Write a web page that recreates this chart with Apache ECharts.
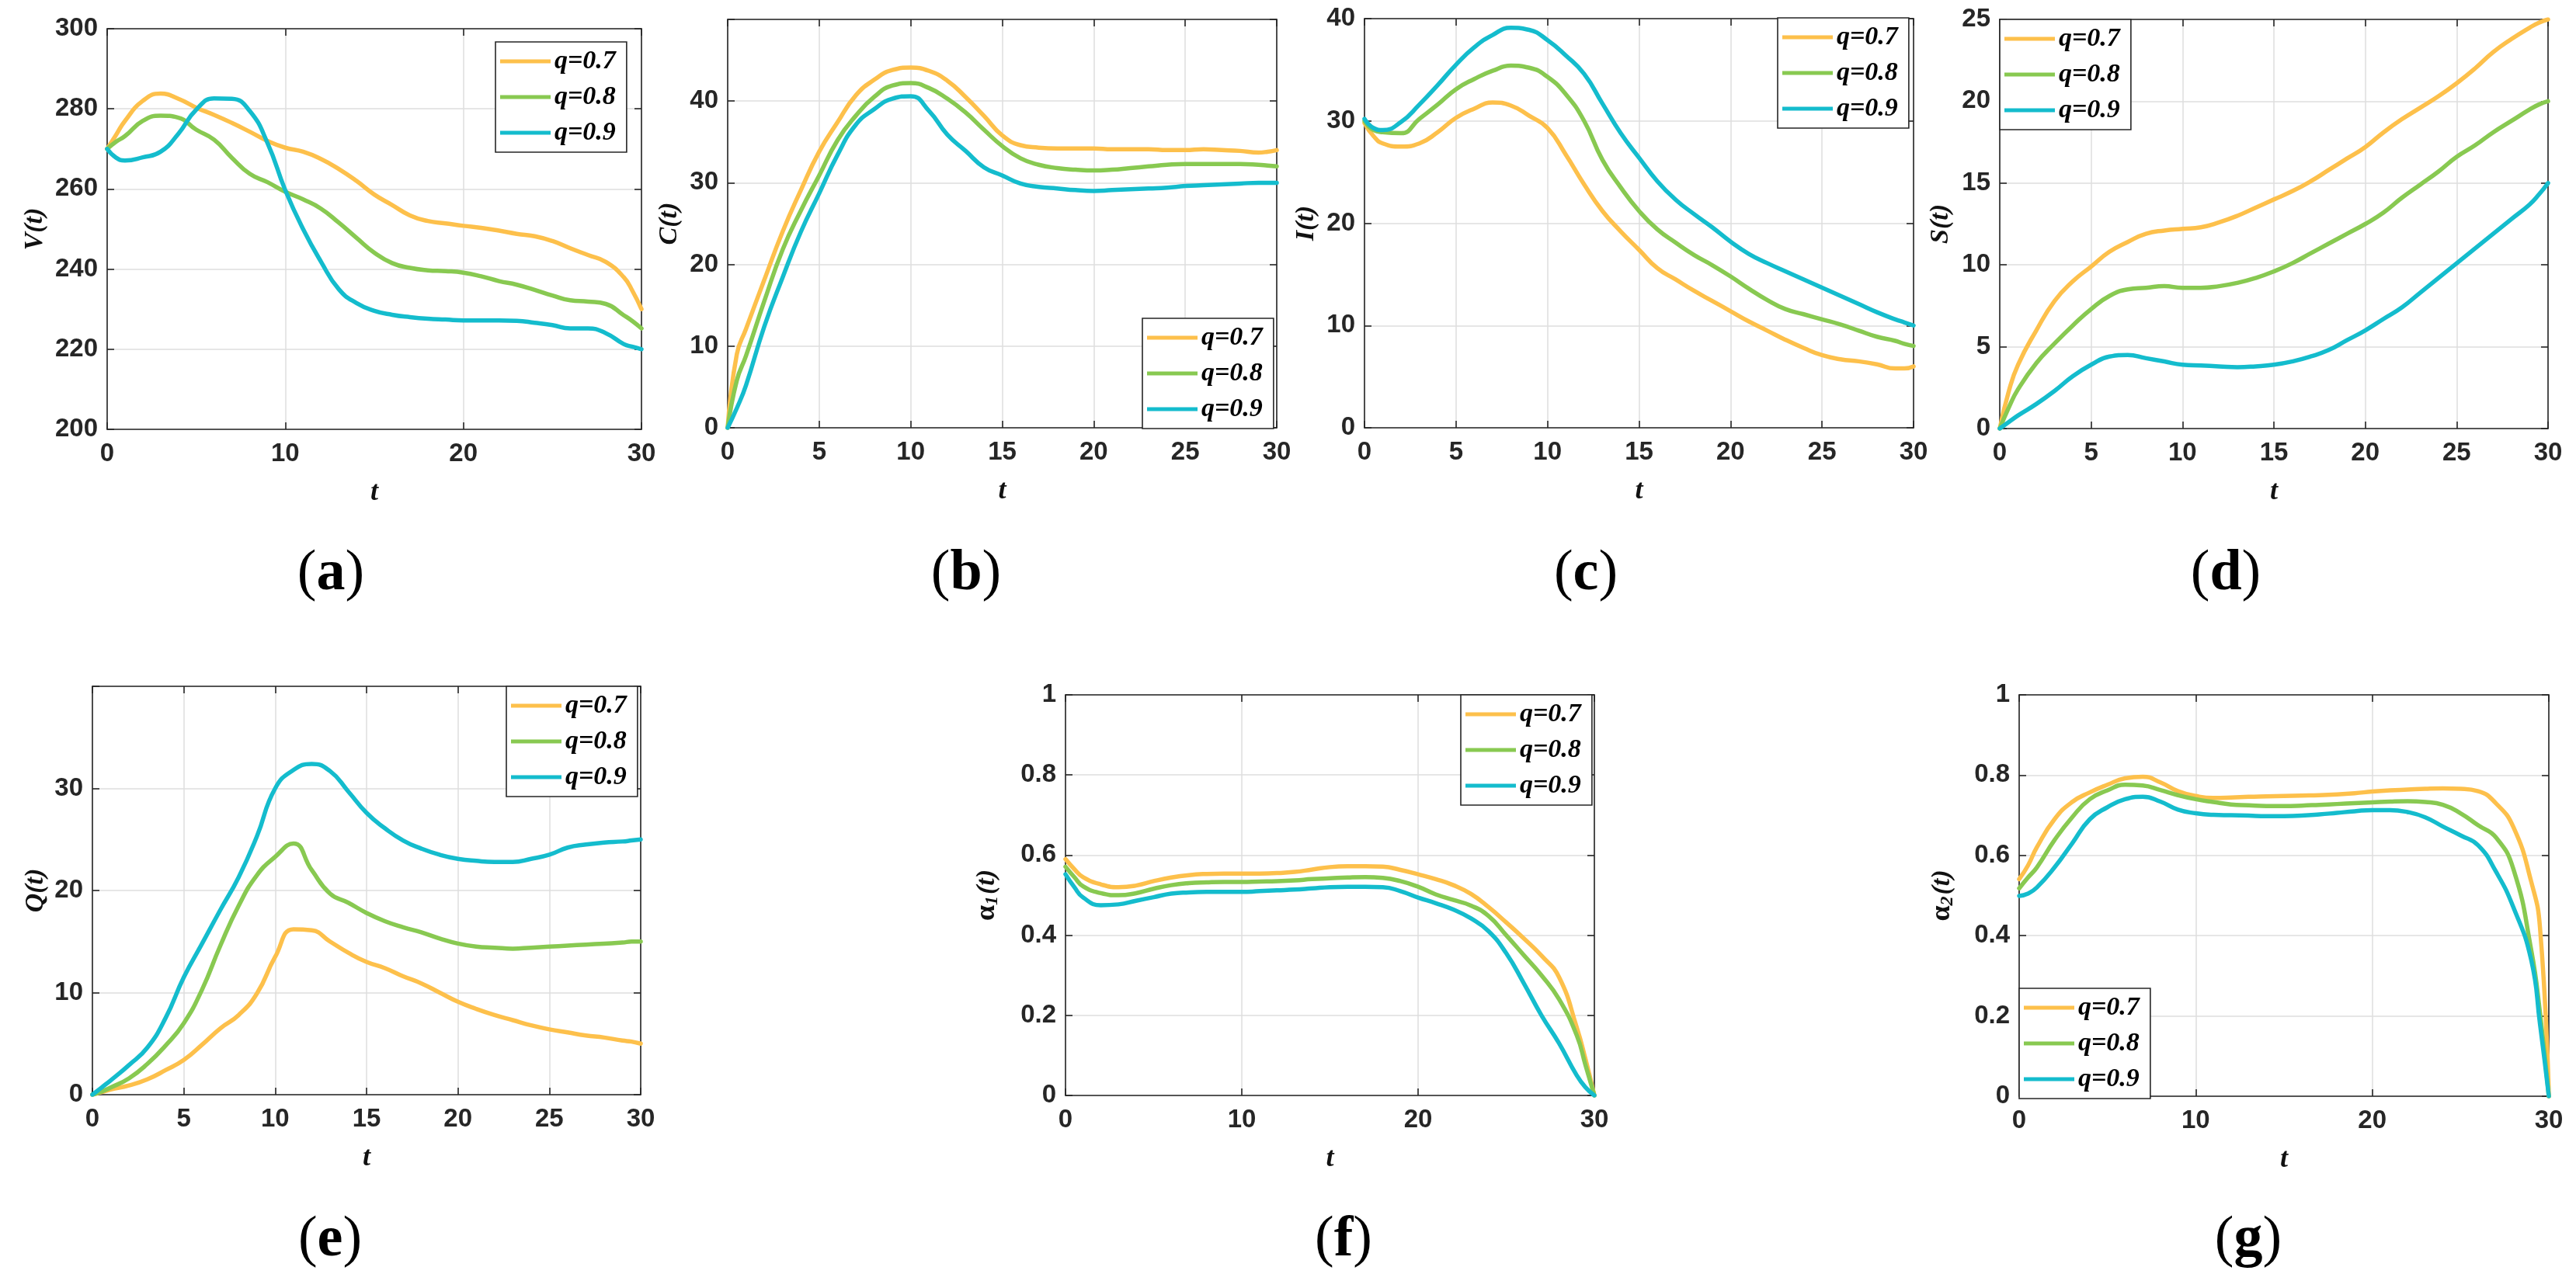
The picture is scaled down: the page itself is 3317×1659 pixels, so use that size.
<!DOCTYPE html>
<html><head><meta charset="utf-8">
<script src="https://cdn.jsdelivr.net/npm/echarts@6/dist/echarts.min.js"></script>
<style>html,body{margin:0;padding:0;background:#fff}#c{width:3317px;height:1659px}</style>
</head><body><div id="c"></div>
<script>
// shared time grid
const t = [0,0.5,1,2,3,4,5,6,7,8,9,10,11,12,13,14,15,16,17,18,19,20,21,22,23,24,25,26,27,28,29,29.5,30];
const seriesNames = ['q=0.7','q=0.8','q=0.9'];

// (a) V(t)
const V07 = [270,273.5,277,282,283.8,282.5,280.3,278.5,276.5,274.3,272,270.3,269.3,267.5,265,262,258.6,256,253.4,252,251.4,250.8,250.3,249.6,248.8,248.2,247,245.2,243.5,241.8,238,234.5,230];
const V08 = [270,271.8,273.2,277,278.3,277.8,274.8,272.3,267.8,263.8,261.7,259.3,257.4,255.1,251.6,247.8,244.1,241.5,240.3,239.7,239.5,239.1,238.2,237,236.1,234.8,233.4,232.2,231.9,231.3,228.5,227,225.2];
const V09 = [270,267.8,267.1,267.9,269.3,273.8,279.8,282.6,282.5,279.5,271.5,259.7,250,241.9,235,231.5,229.6,228.6,228,227.6,227.4,227.2,227.2,227.2,227.1,226.6,226,225.2,225.2,224,221.3,220.6,220];
// (b) C(t)
const C07 = [0,9,12.1,18.1,24,29.1,33.8,37.4,40.7,42.6,43.8,44.1,43.7,42.5,40.5,38.2,35.8,34.6,34.3,34.2,34.2,34.2,34.1,34.1,34.1,34,34,34.1,34,33.9,33.7,33.8,34];
const C08 = [0,5.8,8.8,15.5,21.8,26.6,30.9,35.2,38.2,40.5,41.9,42.2,41.6,40.3,38.6,36.5,34.5,33,32.2,31.8,31.6,31.5,31.6,31.8,32,32.2,32.3,32.3,32.3,32.3,32.2,32.1,32];
const C09 = [0,2.4,5.2,12.4,18.4,24,28.7,33.4,37.1,39,40.3,40.6,38.8,35.9,33.9,31.9,30.9,29.9,29.5,29.3,29.1,29,29.1,29.2,29.3,29.4,29.6,29.7,29.8,29.9,30,30,30];
// (c) I(t)
const I07 = [29.8,28.5,27.8,27.5,27.8,28.9,30.3,31.2,31.8,31.5,30.5,29.3,26.7,23.8,21.2,19.2,17.4,15.6,14.5,13.4,12.4,11.4,10.4,9.5,8.6,7.8,7.1,6.7,6.5,6.2,5.8,5.8,6];
const I08 = [30,29.1,28.9,28.8,30.2,31.6,33.1,34.1,34.9,35.4,35.2,34.3,32.6,30,26.2,23.5,21.2,19.4,18.1,16.9,15.9,14.8,13.6,12.5,11.6,11.1,10.6,10.1,9.5,8.9,8.5,8.2,8];
const I09 = [30.2,29.3,29.1,29.9,31.6,33.5,35.5,37.2,38.4,39.1,38.9,37.9,36.4,34.6,31.7,28.8,26.4,24.1,22.3,20.9,19.6,18.2,17,16.1,15.3,14.5,13.7,12.9,12.1,11.3,10.6,10.3,10];
// (d) S(t)
const S07 = [0,2.3,3.9,6,7.8,9,9.9,10.8,11.4,11.9,12.1,12.2,12.3,12.6,13,13.5,14,14.5,15.1,15.8,16.5,17.2,18.1,18.9,19.6,20.3,21.1,22,23,23.8,24.5,24.8,25];
const S08 = [0,1.3,2.4,4,5.2,6.3,7.3,8.1,8.5,8.6,8.7,8.6,8.6,8.7,8.9,9.2,9.6,10.1,10.7,11.3,11.9,12.5,13.2,14.1,14.9,15.7,16.6,17.3,18.1,18.8,19.5,19.8,20];
const S09 = [0,0.4,0.8,1.5,2.3,3.2,3.9,4.4,4.5,4.3,4.1,3.9,3.85,3.8,3.75,3.8,3.9,4.1,4.4,4.8,5.4,6,6.7,7.4,8.3,9.2,10.1,11,11.9,12.8,13.7,14.3,15];
// (e) Q(t)
const Q07 = [0,0.25,0.5,0.9,1.5,2.4,3.4,4.9,6.5,7.8,9.9,13.5,16.2,16.1,15,13.9,13,12.4,11.6,10.9,10,9.1,8.4,7.8,7.3,6.8,6.4,6.1,5.8,5.6,5.3,5.2,5];
const Q08 = [0,0.3,0.7,1.6,3,4.8,7,10.3,14.6,18.5,21.5,23.3,24.6,22,19.7,18.8,17.8,17,16.4,15.9,15.3,14.8,14.5,14.4,14.3,14.4,14.5,14.6,14.7,14.8,14.9,15,15];
const Q09 = [0,0.7,1.4,2.9,4.6,7.5,11.5,14.8,18.1,21.3,25.3,30,31.8,32.4,31.7,29.7,27.6,26.1,24.9,24.1,23.5,23.1,22.9,22.8,22.8,23.1,23.5,24.2,24.5,24.7,24.8,24.9,25];
// (f) alpha1(t)
const A1_07 = [0.59,0.565,0.545,0.527,0.52,0.524,0.535,0.544,0.55,0.553,0.554,0.554,0.554,0.555,0.558,0.564,0.57,0.572,0.572,0.571,0.563,0.552,0.54,0.525,0.503,0.47,0.432,0.392,0.349,0.295,0.17,0.09,0];
const A1_08 = [0.571,0.545,0.522,0.505,0.5,0.505,0.516,0.525,0.53,0.532,0.533,0.533,0.534,0.535,0.537,0.54,0.542,0.544,0.545,0.543,0.535,0.521,0.502,0.488,0.474,0.448,0.4,0.35,0.3,0.24,0.15,0.075,0];
const A1_09 = [0.552,0.52,0.494,0.475,0.477,0.486,0.495,0.504,0.507,0.508,0.508,0.508,0.51,0.512,0.514,0.517,0.52,0.521,0.521,0.52,0.51,0.494,0.48,0.464,0.442,0.41,0.355,0.28,0.2,0.13,0.05,0.02,0];
// (g) alpha2(t)
const A2_07 = [0.541,0.575,0.62,0.69,0.733,0.757,0.776,0.792,0.796,0.782,0.76,0.748,0.743,0.744,0.746,0.747,0.748,0.749,0.75,0.752,0.755,0.759,0.762,0.764,0.766,0.767,0.766,0.76,0.73,0.67,0.535,0.42,0];
const A2_08 = [0.518,0.545,0.57,0.638,0.695,0.74,0.762,0.776,0.774,0.763,0.75,0.74,0.733,0.727,0.725,0.723,0.723,0.724,0.726,0.728,0.73,0.732,0.734,0.735,0.733,0.726,0.705,0.675,0.645,0.565,0.365,0.208,0];
const A2_09 = [0.499,0.505,0.52,0.57,0.63,0.69,0.72,0.74,0.746,0.734,0.714,0.705,0.701,0.7,0.699,0.698,0.698,0.699,0.702,0.706,0.71,0.713,0.713,0.708,0.695,0.672,0.65,0.625,0.56,0.47,0.34,0.18,0];

const panelData = [[V07,V08,V09],[C07,C08,C09],[I07,I08,I09],[S07,S08,S09],[Q07,Q08,Q09],[A1_07,A1_08,A1_09],[A2_07,A2_08,A2_09]];
const colors = ['#FDC04B','#88C951','#14BCCD'];

// layout (positions / styles)
const L = [
 {l:138, tp:37, w:688, h:516, ymin:200, ymax:300, yint:20, xint:10, yname:'{i|V(t)}', ygap:76, lg:[638,54], cap:['a',426,740]},
 {l:937, tp:25, w:707, h:526, ymin:0, ymax:50, yint:10, xint:5, yname:'{i|C(t)}', ygap:58, lg:[1471,410], cap:['b',1244,740], hideTop:true},
 {l:1757, tp:24, w:707, h:527, ymin:0, ymax:40, yint:10, xint:5, yname:'{i|I(t)}', ygap:58, lg:[2289,23], cap:['c',2042,740]},
 {l:2575, tp:25, w:706, h:527, ymin:0, ymax:25, yint:5, xint:5, yname:'{i|S(t)}', ygap:59, lg:[2575,25], cap:['d',2866,740]},
 {l:119, tp:884, w:706, h:526, ymin:0, ymax:40, yint:10, xint:5, yname:'{i|Q(t)}', ygap:56, lg:[652,884], cap:['e',425,1598], hideTop:true},
 {l:1372, tp:895, w:681, h:516, ymin:0, ymax:1, yint:0.2, xint:10, yname:'{a|α}{s|1}{i|(t)}', ygap:82, lg:[1881,895], cap:['f',1730,1598]},
 {l:2600, tp:895, w:682, h:517, ymin:0, ymax:1, yint:0.2, xint:10, yname:'{a|α}{s|2}{i|(t)}', ygap:80, lg:[2600,1273], cap:['g',2895,1598]}
];

const axisColor = '#262626';
const tickFont = {fontFamily:'Liberation Sans, Arial, sans-serif', fontWeight:'bold', fontSize:33, color:axisColor};
const serif = 'Liberation Serif, Times New Roman, serif';

const grid=[], xAxis=[], yAxis=[], series=[], legend=[], graphic=[];
L.forEach((p,i)=>{
  grid.push({left:p.l, top:p.tp, width:p.w, height:p.h, containLabel:false});
  const baseLine = {show:true, onZero:false, lineStyle:{color:axisColor, width:1.6}};
  const tick = {show:true, inside:true, length:9, lineStyle:{color:axisColor, width:1.6}};
  xAxis.push({type:'value', gridIndex:i, position:'bottom', min:0, max:30, interval:p.xint,
    axisLine:baseLine, axisTick:tick,
    axisLabel:Object.assign({margin:15}, tickFont),
    splitLine:{show:true, lineStyle:{color:'#dedede', width:1.5}},
    name:'t', nameLocation:'middle', nameGap:64,
    nameTextStyle:{fontFamily:serif, fontStyle:'italic', fontWeight:'bold', fontSize:36, color:'#111'}});
  xAxis.push({type:'value', gridIndex:i, position:'top', min:0, max:30, interval:p.xint,
    axisLine:baseLine, axisTick:tick, axisLabel:{show:false}, splitLine:{show:false}});
  const hideTop = p.hideTop;
  yAxis.push({type:'value', gridIndex:i, position:'left', min:p.ymin, max:p.ymax, interval:p.yint,
    axisLine:baseLine, axisTick:tick,
    axisLabel:Object.assign({margin:12, formatter:(v)=> (hideTop && v===p.ymax) ? '' : String(+v.toFixed(2))}, tickFont),
    splitLine:{show:true, lineStyle:{color:'#dedede', width:1.5}},
    name:p.yname, nameLocation:'middle', nameGap:p.ygap,
    nameTextStyle:{rich:{
      i:{fontFamily:serif, fontStyle:'italic', fontWeight:'bold', fontSize:34, color:'#111'},
      a:{fontFamily:serif, fontWeight:'bold', fontSize:36, color:'#111'},
      s:{fontFamily:serif, fontStyle:'italic', fontWeight:'bold', fontSize:24, color:'#111', verticalAlign:'bottom', padding:[14,2,0,0]}
    }}});
  yAxis.push({type:'value', gridIndex:i, position:'right', min:p.ymin, max:p.ymax, interval:p.yint,
    axisLine:baseLine, axisTick:tick, axisLabel:{show:false}, splitLine:{show:false}});
  panelData[i].forEach((vals,k)=>{
    series.push({type:'line', name:seriesNames[k], xAxisIndex:2*i, yAxisIndex:2*i,
      data:t.map((x,j)=>[x, vals[j]]), showSymbol:false, smooth:0.5,
      lineStyle:{color:colors[k], width:5.5, cap:'round', join:'round'}, itemStyle:{color:colors[k]}, z:2+k});
  });
  legend.push({data:seriesNames, orient:'vertical', left:p.lg[0], top:p.lg[1],
    padding:[8,14,8,6], itemGap:12, itemWidth:65, itemHeight:5, icon:'rect',
    backgroundColor:'#fff', borderColor:axisColor, borderWidth:1.6, borderRadius:0,
    selectedMode:false, z:10,
    textStyle:{fontFamily:serif, fontStyle:'italic', fontWeight:'bold', fontSize:34, color:'#000'}});
  graphic.push({type:'text', x:p.cap[1], y:p.cap[2], style:{
    text:'{p|(}{b|'+p.cap[0]+'}{p|)}', align:'center', verticalAlign:'middle',
    rich:{p:{fontFamily:serif, fontSize:74, color:'#000'}, b:{fontFamily:serif, fontWeight:'bold', fontSize:74, color:'#000'}}}});
});

const chart = echarts.init(document.getElementById('c'), null, {renderer:'canvas'});
chart.setOption({animation:false, backgroundColor:'#fff', color:colors, grid, xAxis, yAxis, series, legend, graphic});
</script>
</body></html>
